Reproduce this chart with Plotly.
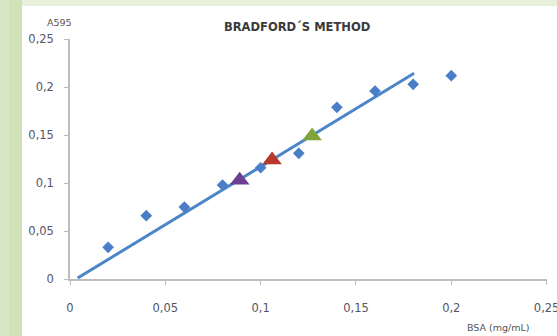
import plotly.graph_objects as go

# Data
bsa = [0.02, 0.04, 0.06, 0.08, 0.10, 0.12, 0.14, 0.16, 0.18, 0.20]
a595 = [0.033, 0.066, 0.075, 0.098, 0.116, 0.131, 0.179, 0.196, 0.203, 0.212]
trend_x = [0.004, 0.1805]
trend_y = [0.001, 0.2145]
samples_x = [0.089, 0.106, 0.127]
samples_y = [0.103, 0.124, 0.149]
sample_colors = ["#6b3f92", "#b5392c", "#7fa53c"]
ticks = [0, 0.05, 0.1, 0.15, 0.2, 0.25]

W, H = 557, 336
L, R, T, B = 70, 10, 39, 57
pw, ph = W - L - R, H - T - B

def px(x):
    return (x - L) / pw

def py(y):
    return (H - B - y) / ph

fig = go.Figure()

fig.add_trace(go.Scatter(x=trend_x, y=trend_y, mode="lines",
                         line=dict(color="#4a86c8", width=3), showlegend=False))
fig.add_trace(go.Scatter(x=bsa, y=a595, mode="markers",
                         marker=dict(symbol="diamond", size=9, color="#4a7fc8"),
                         showlegend=False))
fig.add_trace(go.Scatter(x=samples_x, y=samples_y, mode="markers",
                         marker=dict(symbol="triangle-up", size=17, color=sample_colors,
                                     line=dict(width=0)),
                         showlegend=False))

shapes = [
    dict(type="rect", xref="paper", yref="paper", x0=px(0), x1=px(22), y0=py(H), y1=py(0),
         fillcolor="#d0e3b8", line=dict(width=0), layer="below"),
    dict(type="rect", xref="paper", yref="paper", x0=px(0), x1=px(9), y0=py(H), y1=py(0),
         fillcolor="#d8e8c4", line=dict(width=0), layer="below"),
    dict(type="rect", xref="paper", yref="paper", x0=px(22), x1=px(W), y0=py(6), y1=py(0),
         fillcolor="#e8f0dc", line=dict(width=0), layer="below"),
]

axis_common = dict(tickvals=ticks, showgrid=False, zeroline=False,
                   showline=True, linecolor="#bdbdbd", linewidth=1.5,
                   ticks="outside", ticklen=4, tickcolor="#bdbdbd",
                   ticklabeloverflow="allow", automargin=False,
                   tickfont=dict(family="DejaVu Sans", size=11.5, color="#555566"))

ann = dict(xref="paper", yref="paper", showarrow=False, xanchor="center", yanchor="middle")

fig.update_layout(
    width=W, height=H,
    margin=dict(l=L, r=R, t=T, b=B),
    paper_bgcolor="white", plot_bgcolor="white",
    separators=", ",
    xaxis=dict(**axis_common, range=[0, 0.2502], ticklabelstandoff=13),
    yaxis=dict(**axis_common, range=[0, 0.2502], ticklabelstandoff=8),
    shapes=shapes,
    annotations=[
        dict(**ann, text="<b>BRADFORD´S METHOD</b>", x=px(297), y=py(27),
             font=dict(family="DejaVu Sans", size=11.5, color="#3a3a3a")),
        dict(**ann, text="A595", x=px(59), y=py(22),
             font=dict(family="DejaVu Sans", size=9.5, color="#555555")),
        dict(**ann, text="BSA (mg/mL)", x=px(498), y=py(327),
             font=dict(family="DejaVu Sans", size=9.5, color="#555555")),
    ],
)

fig.write_html("out.html", config={"displayModeBar": False},
               post_script="document.body.style.margin='0';")
